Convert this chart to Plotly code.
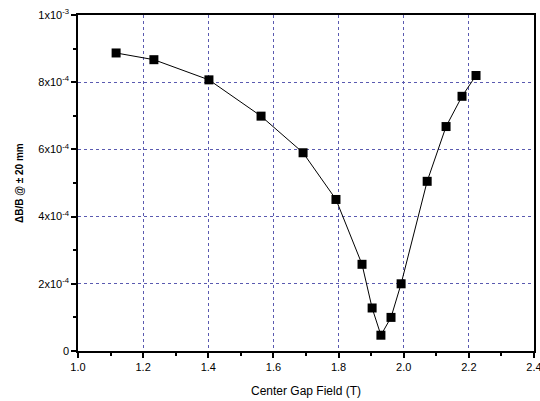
import plotly.graph_objects as go

field_T = [1.117, 1.233, 1.402, 1.562, 1.691, 1.792, 1.872, 1.903, 1.930, 1.961, 1.992, 2.072, 2.130, 2.179, 2.222]
dB_over_B = [8.87e-4, 8.67e-4, 8.07e-4, 6.99e-4, 5.90e-4, 4.51e-4, 2.58e-4, 1.28e-4, 4.7e-5, 1.00e-4, 2.00e-4, 5.05e-4, 6.68e-4, 7.58e-4, 8.20e-4]

x_ticks = [1.0, 1.2, 1.4, 1.6, 1.8, 2.0, 2.2, 2.4]
x_tick_text = ["1.0", "1.2", "1.4", "1.6", "1.8", "2.0", "2.2", "2.4"]
y_ticks = [0, 2e-4, 4e-4, 6e-4, 8e-4, 1e-3]
y_tick_text = ["0", "2x10<sup>-4</sup>", "4x10<sup>-4</sup>", "6x10<sup>-4</sup>", "8x10<sup>-4</sup>", "1x10<sup>-3</sup>"]
x_range = [1.0, 2.4]
y_range = [0, 1e-3]
x_title = "Center Gap Field (T)"
y_title = "<b>ΔB/B @ ± 20 mm</b>"

fig = go.Figure()
fig.add_trace(go.Scatter(
    x=field_T, y=dB_over_B, mode="lines+markers",
    line=dict(color="black", width=1),
    marker=dict(symbol="square", size=9, color="black"),
    showlegend=False,
))

font = "Liberation Sans, Arial, sans-serif"
grid_color = "#5a5ab0"

W, H = 540, 401
L, R, T, B = 78, 6, 15, 50
plot_w = W - L - R

fig.update_layout(
    width=W, height=H,
    margin=dict(l=L, r=R, t=T, b=B),
    paper_bgcolor="white", plot_bgcolor="white",
    font=dict(family=font, size=11, color="black"),
    xaxis=dict(
        range=x_range, tickmode="array", tickvals=x_ticks, ticktext=x_tick_text,
        showline=True, linecolor="black", linewidth=1.5, mirror=True,
        ticks="outside", ticklen=5, tickwidth=1.5, tickcolor="black",
        showgrid=True, gridcolor=grid_color, griddash="dot", gridwidth=1,
        minor=dict(dtick=0.1, tick0=1.0, ticks="outside", ticklen=3, tickwidth=1.5,
                   tickcolor="black", showgrid=False),
        zeroline=False, automargin=False, ticklabeloverflow="allow",
        title=dict(text=x_title, font=dict(size=12, family=font)),
        tickfont=dict(size=11),
    ),
    yaxis=dict(
        range=y_range, tickmode="array", tickvals=y_ticks, ticktext=y_tick_text,
        showline=True, linecolor="black", linewidth=1.5, mirror=True,
        ticks="outside", ticklen=5, tickwidth=1.5, tickcolor="black",
        showgrid=True, gridcolor=grid_color, griddash="dot", gridwidth=1,
        minor=dict(dtick=1e-4, tick0=0, ticks="outside", ticklen=3, tickwidth=1.5,
                   tickcolor="black", showgrid=False),
        zeroline=False, automargin=False, ticklabeloverflow="allow",
        tickfont=dict(size=11),
    ),
    annotations=[dict(
        text=y_title, textangle=-90, showarrow=False,
        xref="paper", yref="paper", x=(19 - L) / plot_w, y=0.5,
        xanchor="center", yanchor="middle",
        font=dict(size=10, family=font, color="black"),
    )],
)

# remove the default 8px page margin so the figure fills the window exactly
fig.write_html("out.html", config={"displayModeBar": False}, post_script=(
    "document.body.style.margin='0';"
    "document.body.style.overflow='hidden';"
    "document.documentElement.style.overflow='hidden';"
))
